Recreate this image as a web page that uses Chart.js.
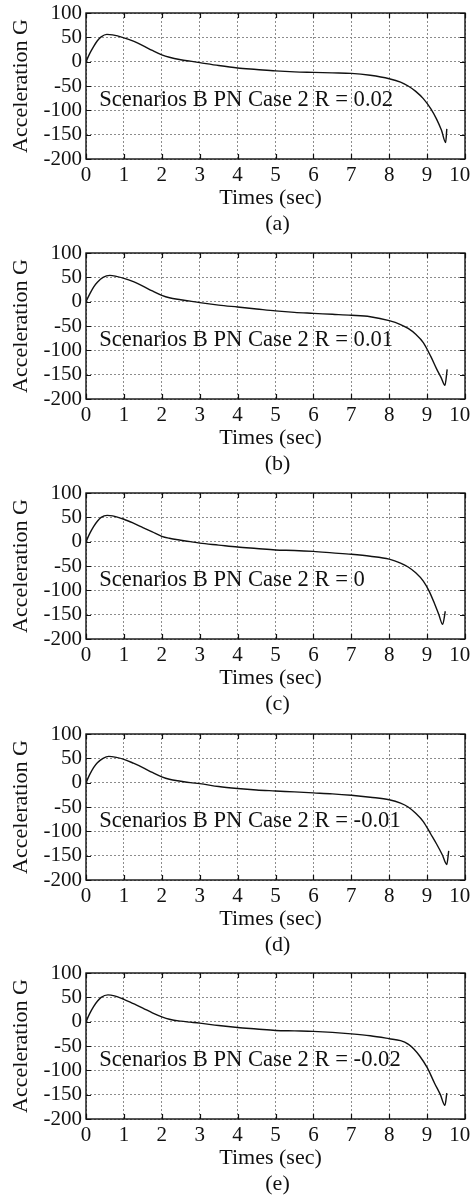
<!DOCTYPE html>
<html>
<head>
<meta charset="utf-8">
<script src="https://cdn.jsdelivr.net/npm/chart.js@4.4.1/dist/chart.umd.min.js"></script>
<style>
  html, body { margin: 0; padding: 0; background: #fff; overflow: hidden; }
  body { width: 470px; height: 1196px; position: relative; }
  .panel { position: absolute; left: 0; width: 470px; height: 240px; }
</style>
</head>
<body>
<div class="panel" style="top:0px"><canvas id="c0" width="470" height="240"></canvas></div>
<div class="panel" style="top:240px"><canvas id="c1" width="470" height="240"></canvas></div>
<div class="panel" style="top:480px"><canvas id="c2" width="470" height="240"></canvas></div>
<div class="panel" style="top:721px"><canvas id="c3" width="470" height="240"></canvas></div>
<div class="panel" style="top:960px"><canvas id="c4" width="470" height="240"></canvas></div>
<script>
// ---- data ----
const xTicks = [0, 1, 2, 3, 4, 5, 6, 7, 8, 9, 10];
const yTicks = [100, 50, 0, -50, -100, -150, -200];
const panelLabels = ['(a)', '(b)', '(c)', '(d)', '(e)'];
const rValues = ['0.02', '0.01', '0', '-0.01', '-0.02'];

const timeA  = [0, 0.1, 0.2, 0.3, 0.4, 0.55, 0.7, 1.0, 1.25, 1.5, 1.75, 2.0, 2.2, 2.5, 2.75, 3.0, 3.5, 4.0, 4.5, 5.0, 5.5, 6.0, 6.5, 7.0, 7.5, 8.0, 8.3, 8.5, 8.7, 8.9, 9.1, 9.25, 9.38, 9.49, 9.52];
const accelA = [0, 17, 31, 43, 51, 56, 55, 49, 42, 33, 23, 14, 9, 4, 1, -2, -8, -13, -16, -19, -21, -22, -23, -24, -28, -35, -42, -50, -61, -76, -97, -118, -141, -166, -138];

const timeB  = [0, 0.1, 0.2, 0.3, 0.45, 0.63, 0.8, 1.0, 1.25, 1.5, 1.75, 2.0, 2.2, 2.5, 2.75, 3.0, 3.5, 4.0, 4.5, 5.0, 5.5, 6.0, 6.5, 7.0, 7.5, 8.0, 8.3, 8.5, 8.7, 8.9, 9.1, 9.25, 9.37, 9.47, 9.53];
const accelB = [0, 16, 30, 40, 50, 54, 52, 48, 41, 32, 22, 13, 8, 4, 1, -2, -7, -11, -15, -19, -22, -24, -26, -28, -31, -39, -47, -55, -67, -84, -113, -138, -156, -172, -139];

const timeC  = [0, 0.1, 0.2, 0.3, 0.4, 0.56, 0.7, 1.0, 1.25, 1.5, 1.75, 2.0, 2.2, 2.5, 2.75, 3.0, 3.5, 4.0, 4.5, 5.0, 5.5, 6.0, 6.5, 7.0, 7.5, 8.0, 8.3, 8.5, 8.7, 8.9, 9.05, 9.2, 9.31, 9.41, 9.48];
const accelC = [0, 17, 31, 42, 50, 54, 53, 46, 38, 29, 20, 11, 7, 3, 0, -3, -7, -11, -14, -17, -18, -20, -23, -26, -30, -36, -44, -52, -64, -81, -101, -128, -150, -170, -143];

const timeD  = [0, 0.1, 0.2, 0.3, 0.45, 0.6, 0.8, 1.0, 1.25, 1.5, 1.75, 2.0, 2.2, 2.5, 2.75, 3.0, 3.5, 4.0, 4.5, 5.0, 5.5, 6.0, 6.5, 7.0, 7.5, 8.0, 8.3, 8.5, 8.7, 8.9, 9.1, 9.25, 9.4, 9.52, 9.57];
const accelD = [0, 17, 31, 41, 50, 54, 52, 48, 40, 31, 21, 12, 7, 3, 0, -2, -8, -12, -15, -17, -19, -21, -23, -26, -30, -35, -42, -50, -63, -80, -106, -126, -148, -168, -140];

const timeE  = [0, 0.1, 0.2, 0.3, 0.4, 0.58, 0.75, 1.0, 1.25, 1.5, 1.75, 2.0, 2.2, 2.5, 2.75, 3.0, 3.5, 4.0, 4.5, 5.0, 5.5, 6.0, 6.5, 7.0, 7.5, 8.0, 8.3, 8.5, 8.65, 8.8, 9.0, 9.2, 9.35, 9.47, 9.52];
const accelE = [0, 17, 31, 42, 50, 55, 53, 46, 37, 28, 18, 10, 5, 1, -1, -3, -8, -12, -15, -18, -19, -20, -22, -25, -29, -35, -39, -46, -56, -70, -94, -127, -150, -172, -147];

const seriesTimes = [timeA, timeB, timeC, timeD, timeE];
const seriesAccel = [accelA, accelB, accelC, accelD, accelE];

// ---- styling ----
const FONT = '"Liberation Serif", "Times New Roman", Times, serif';
const TEXT = '#111';

const framePlugin = {
  id: 'frame',
  afterDatasetsDraw(chart) {
    const { ctx, chartArea: a, scales: { x, y } } = chart;
    ctx.save();
    ctx.strokeStyle = '#111';
    ctx.lineWidth = 1.2;
    ctx.beginPath();
    const tl = 5;
    x.ticks.forEach(t => {
      const px = Math.round(x.getPixelForValue(t.value)) + 0.5;
      ctx.moveTo(px, a.bottom); ctx.lineTo(px, a.bottom - tl);
      ctx.moveTo(px, a.top); ctx.lineTo(px, a.top + tl);
    });
    y.ticks.forEach(t => {
      const py = Math.round(y.getPixelForValue(t.value)) + 0.5;
      ctx.moveTo(a.left, py); ctx.lineTo(a.left + tl, py);
      ctx.moveTo(a.right, py); ctx.lineTo(a.right - tl, py);
    });
    ctx.stroke();
    ctx.lineWidth = 1.4;
    ctx.strokeRect(a.left, a.top, a.right - a.left, a.bottom - a.top);
    ctx.restore();
  },
  afterDraw(chart, args, opts) {
    const { ctx, chartArea: a, scales: { x, y } } = chart;
    ctx.save();
    ctx.fillStyle = TEXT;
    ctx.font = '22.6px ' + FONT;
    ctx.textAlign = 'left';
    ctx.textBaseline = 'middle';
    ctx.fillText(opts.text, x.getPixelForValue(0.35), y.getPixelForValue(-79));
    ctx.font = '22px ' + FONT;
    ctx.textAlign = 'center';
    ctx.fillText(opts.label, (a.left + a.right) / 2 + 2, chart.height - 16);
    ctx.restore();
  }
};

function makeChart(i) {
  const pts = seriesTimes[i].map((t, k) => ({ x: t, y: seriesAccel[i][k] }));
  new Chart(document.getElementById('c' + i), {
    type: 'line',
    data: {
      datasets: [{
        data: pts,
        borderColor: '#111',
        borderWidth: 1.4,
        pointRadius: 0,
        fill: false,
        cubicInterpolationMode: 'monotone'
      }]
    },
    options: {
      responsive: false,
      devicePixelRatio: 1,
      animation: false,
      layout: { padding: { left: 0, right: 5, top: 13, bottom: 0 } },
      plugins: {
        legend: { display: false },
        tooltip: { enabled: false },
        frame: { text: 'Scenarios B PN Case 2 R = ' + rValues[i], label: panelLabels[i] }
      },
      scales: {
        x: {
          type: 'linear',
          min: 0, max: 10,
          afterBuildTicks: s => { s.ticks = xTicks.map(v => ({ value: v })); },
          afterFit: s => { s.height = 81; s.paddingLeft = 0; s.paddingRight = 0; },
          ticks: {
            color: TEXT, font: { family: FONT, size: 21 }, padding: 4, maxRotation: 0, autoSkip: false,
            callback: (v, idx, arr) => idx === arr.length - 1 ? String(v) + '\u00a0\u00a0' : String(v)
          },
          grid: { color: '#8c8c8c', lineWidth: 1, drawTicks: false },
          border: { display: false, dash: [2, 2] },
          title: {
            display: true,
            text: 'Times (sec) \u2009',
            color: TEXT,
            font: { family: FONT, size: 22, lineHeight: 1.25 },
            padding: { top: 0, bottom: 28 }
          }
        },
        y: {
          type: 'linear',
          min: -200, max: 100,
          afterBuildTicks: s => { s.ticks = yTicks.map(v => ({ value: v })); },
          afterFit: s => { s.width = 86; s.paddingTop = 0; s.paddingBottom = 0; },
          ticks: { color: TEXT, font: { family: FONT, size: 21 }, padding: 4, autoSkip: false },
          grid: { color: '#8c8c8c', lineWidth: 1, drawTicks: false },
          border: { display: false, dash: [2, 2] },
          title: {
            display: true,
            text: 'Acceleration G',
            color: TEXT,
            font: { family: FONT, size: 22, lineHeight: 1.2 },
            padding: { top: 8, bottom: 0 }
          }
        }
      }
    },
    plugins: [framePlugin]
  });
}

for (let i = 0; i < 5; i++) makeChart(i);
</script>
</body>
</html>
